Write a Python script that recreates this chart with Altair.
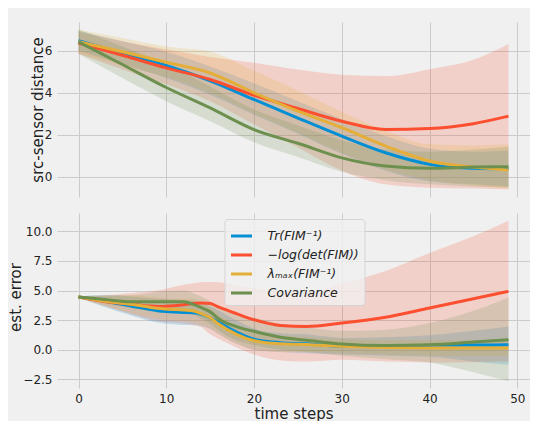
import altair as alt
import pandas as pd

SERIES = ["Tr(FIM⁻¹)", "−log(det(FIM))", "λₘₐₓ(FIM⁻¹)", "Covariance"]
KEYS = ["tr", "logdet", "lmax", "cov"]
COLORS = ["#008fd5", "#fc4f30", "#e5ae38", "#6d904f"]

# ---- top panel: src-sensor distance ----
top_x = [0, 5, 10, 15, 20, 25, 30, 35, 40, 45, 49]
top_mean = {
    "tr":     [6.47, 5.88, 5.30, 4.57, 3.68, 2.80, 1.94, 1.15, 0.60, 0.41, 0.38],
    "logdet": [6.36, 5.78, 5.18, 4.63, 3.88, 3.25, 2.65, 2.26, 2.30, 2.53, 2.89],
    "lmax":   [6.42, 5.95, 5.45, 4.94, 4.00, 3.13, 2.34, 1.47, 0.76, 0.47, 0.33],
    "cov":    [6.42, 5.34, 4.25, 3.28, 2.25, 1.60, 0.91, 0.52, 0.41, 0.47, 0.49],
}
top_lo = {
    "tr":     [6.00, 5.35, 4.70, 3.90, 2.95, 2.05, 1.10, 0.30, -0.20, -0.35, -0.45],
    "logdet": [5.85, 5.10, 4.40, 3.60, 2.50, 1.40, 0.30, -0.35, -0.51, -0.55, -0.59],
    "lmax":   [5.85, 5.30, 4.75, 4.00, 3.00, 2.10, 1.15, 0.35, -0.15, -0.40, -0.55],
    "cov":    [5.85, 4.70, 3.60, 2.65, 1.65, 0.95, 0.25, -0.15, -0.35, -0.45, -0.50],
}
top_hi = {
    "tr":     [6.95, 6.45, 5.95, 5.25, 4.45, 3.60, 2.75, 1.95, 1.35, 1.20, 1.26],
    "logdet": [6.90, 6.45, 6.05, 5.70, 5.42, 5.10, 4.86, 4.79, 5.12, 5.57, 6.32],
    "lmax":   [7.00, 6.60, 6.20, 5.95, 5.05, 4.10, 3.10, 2.20, 1.55, 1.50, 1.55],
    "cov":    [7.00, 6.20, 5.35, 4.30, 3.20, 2.45, 1.75, 1.30, 1.20, 1.30, 1.45],
}

# ---- bottom panel: est. error ----
bot_x = [0, 3, 6, 9, 12, 13, 14, 15, 16, 18, 20, 23, 26, 30, 35, 40, 45, 49]
bot_mean = {
    "tr":     [4.45, 4.10, 3.70, 3.30, 3.15, 3.12, 3.00, 2.70, 2.30, 1.50, 0.90, 0.60, 0.50, 0.30, 0.30, 0.37, 0.40, 0.42],
    "logdet": [4.45, 4.08, 3.85, 3.65, 3.80, 3.90, 3.95, 3.90, 3.60, 3.05, 2.53, 2.05, 1.97, 2.26, 2.75, 3.52, 4.31, 4.93],
    "lmax":   [4.45, 4.10, 3.85, 3.50, 3.35, 3.30, 3.05, 2.70, 2.15, 1.30, 0.76, 0.50, 0.45, 0.29, 0.20, 0.15, 0.14, 0.14],
    "cov":    [4.45, 4.25, 4.05, 4.05, 4.05, 3.85, 3.55, 3.20, 2.60, 1.95, 1.55, 1.05, 0.80, 0.48, 0.35, 0.42, 0.65, 0.85],
}
bot_lo = {
    "tr":     [4.40, 3.60, 2.90, 2.30, 2.10, 2.10, 2.00, 1.75, 1.30, 0.50, 0.00, -0.20, -0.30, -0.40, -0.50, -0.60, -1.00, -1.27],
    "logdet": [4.40, 3.70, 3.00, 2.40, 2.20, 2.10, 1.90, 1.30, 0.90, 0.20, -0.40, -0.90, -1.00, -0.85, -1.00, -1.07, -1.05, -1.00],
    "lmax":   [4.40, 3.70, 3.10, 2.60, 2.40, 2.30, 2.10, 1.80, 1.30, 0.50, 0.00, -0.20, -0.20, -0.30, -0.40, -0.50, -0.55, -0.55],
    "cov":    [4.40, 3.90, 3.50, 3.20, 3.10, 3.00, 2.60, 2.20, 1.60, 0.80, 0.40, 0.00, -0.20, -0.50, -0.80, -1.07, -1.90, -2.67],
}
bot_hi = {
    "tr":     [4.50, 4.60, 4.50, 4.30, 4.20, 4.15, 4.00, 3.65, 3.30, 2.50, 1.80, 1.40, 1.30, 1.00, 1.05, 1.22, 1.60, 1.97],
    "logdet": [4.50, 4.60, 4.80, 5.00, 5.50, 5.60, 5.70, 5.72, 5.70, 5.45, 5.20, 4.90, 4.85, 5.60, 6.65, 8.17, 9.58, 10.90],
    "lmax":   [4.50, 4.50, 4.60, 4.40, 4.30, 4.30, 4.00, 3.60, 3.00, 2.10, 1.50, 1.20, 1.10, 0.90, 0.80, 0.80, 0.83, 0.83],
    "cov":    [4.50, 4.60, 4.60, 4.90, 5.00, 4.80, 4.50, 4.10, 3.60, 3.00, 2.70, 2.20, 1.90, 1.60, 1.70, 2.26, 3.30, 4.42],
}


def long_df(xs, mean, lo, hi):
    rows = []
    for key, name in zip(KEYS, SERIES):
        for i, x in enumerate(xs):
            rows.append({"x": x, "series": name, "mean": mean[key][i],
                         "lo": lo[key][i], "hi": hi[key][i]})
    return pd.DataFrame(rows)


top_df = long_df(top_x, top_mean, top_lo, top_hi)
bot_df = long_df(bot_x, bot_mean, bot_lo, bot_hi)

FONT = "DejaVu Sans"
TXT = "#222222"
W, H, GAP = 473, 175, 16

xscale = alt.Scale(domain=[-2.45, 51.45], nice=False, zero=False)
cscale = alt.Scale(domain=SERIES, range=COLORS)

# one shared legend for the whole figure, placed inside the lower panel
LEGEND = alt.Legend(title=None, orient="none", legendX=167.5, legendY=H + GAP + 6,
                    symbolType="stroke", symbolSize=441, symbolStrokeWidth=3,
                    labelFontSize=12.5, labelColor=TXT, labelFont=FONT,
                    rowPadding=0, labelOffset=14, padding=5,
                    fillColor="rgba(240,240,240,0.8)", strokeColor="#d4d4d4",
                    cornerRadius=3)


def panel(df, ydom, yvals, yfmt, ytitle, tx, ty, bottom):
    yscale = alt.Scale(domain=ydom, nice=False, zero=False)
    xaxis = alt.Axis(values=[0, 10, 20, 30, 40, 50], grid=True, ticks=False,
                     domain=False, labels=bottom, labelPadding=5,
                     title="time steps" if bottom else None,
                     titleY=30, titleBaseline="alphabetic")
    yaxis = alt.Axis(values=yvals, format=yfmt, grid=True, ticks=False,
                     domain=False, labelPadding=5, title=ytitle,
                     titleX=tx, titleY=ty, titleAngle=270,
                     titleAlign="center", titleBaseline="bottom")
    layers = []
    for name in SERIES:
        layers.append(
            alt.Chart(df).transform_filter(alt.datum.series == name)
            .mark_area(fillOpacity=0.2, interpolate="monotone", clip=True)
            .encode(x=alt.X("x:Q", scale=xscale, axis=xaxis),
                    y=alt.Y("lo:Q", scale=yscale, axis=yaxis),
                    y2="hi:Q",
                    fill=alt.Fill("series:N", scale=cscale, sort=SERIES, legend=LEGEND)))
    for name in SERIES:
        layers.append(
            alt.Chart(df).transform_filter(alt.datum.series == name)
            .mark_line(strokeWidth=3, interpolate="monotone", clip=True)
            .encode(x=alt.X("x:Q", scale=xscale, axis=xaxis),
                    y=alt.Y("mean:Q", scale=yscale, axis=yaxis),
                    color=alt.Color("series:N", scale=cscale, sort=SERIES, legend=LEGEND)))
    return alt.layer(*layers).properties(width=W, height=H)


top = panel(top_df, [-0.95, 7.36], [0, 2, 4, 6], "d", "src-sensor distance",
            -11.5, 87.5, False)
bot = panel(bot_df, [-3.23, 11.55], [-2.5, 0, 2.5, 5, 7.5, 10], ".1f", "est. error",
            -33.5, 84, True)

chart = (
    alt.vconcat(top, bot, spacing=GAP, bounds="flush")
    .properties(
        background="#f0f0f0",
        padding={"left": 0, "top": 14, "right": 0, "bottom": 0},
    )
    .configure_view(stroke=None)
    .configure_axis(gridColor="#cbcbcb", gridWidth=1, labelFont=FONT,
                    labelFontSize=12, labelColor=TXT, titleFont=FONT,
                    titleFontSize=15, titleFontWeight="normal", titleColor=TXT)
    .configure_legend(labelFontStyle="italic", symbolOpacity=1)
)

chart.save("out.html", embed_options={"renderer": "svg", "actions": False})
